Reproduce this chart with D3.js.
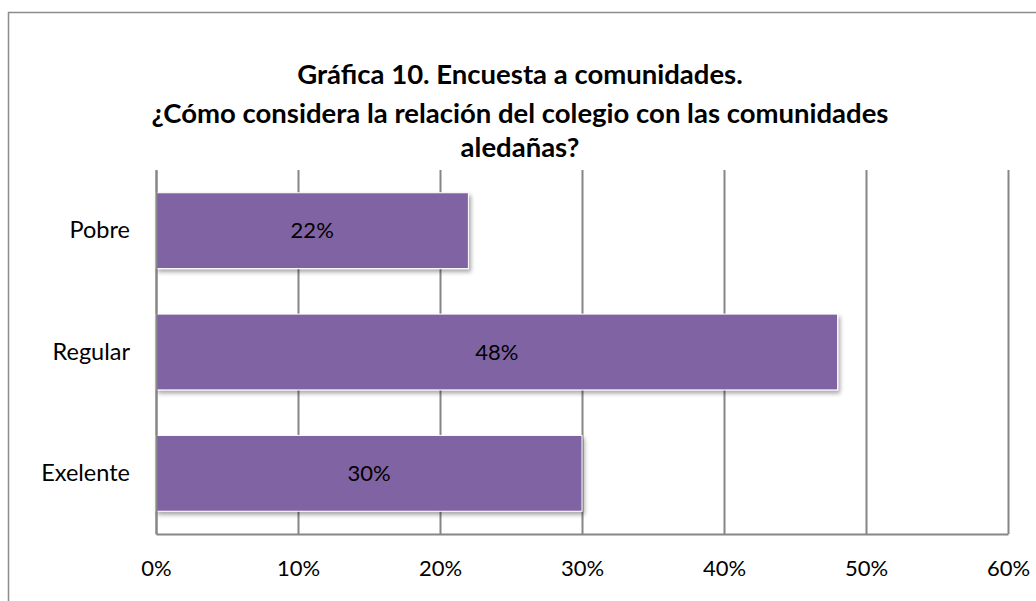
<!DOCTYPE html>
<html>
<head>
<meta charset="utf-8">
<script src="https://d3js.org/d3.v7.min.js"></script>
<style>
  html, body { margin: 0; padding: 0; background: #fff; overflow: hidden; }
  svg { display: block; }
</style>
</head>
<body>
<div id="chart"></div>
<script>
// chart data
var categories = ["Pobre", "Regular", "Exelente"];
var values = [0.22, 0.48, 0.30];
var xTicks = [0, 0.1, 0.2, 0.3, 0.4, 0.5, 0.6];
var titleLines = ["Gráfica 10. Encuesta a comunidades.",
                  "¿Cómo considera la relación del colegio con las comunidades",
                  "aledañas?"];

var W = 1036, H = 601;
var margin = {top: 170, right: 28, bottom: 67, left: 156},
    width = W - margin.left - margin.right,
    height = H - margin.top - margin.bottom;

var font = "Lato, 'Open Sans', sans-serif";

var svg = d3.select("#chart").append("svg")
    .attr("width", W)
    .attr("height", H);

// drop shadow for the bars
var defs = svg.append("defs");
var f = defs.append("filter").attr("id", "shadow")
    .attr("x", "-5%").attr("y", "-10%").attr("width", "115%").attr("height", "140%");
f.append("feDropShadow")
    .attr("dx", 2).attr("dy", 3).attr("stdDeviation", 2)
    .attr("flood-color", "#000").attr("flood-opacity", 0.35);

// outer frame (right and bottom edges run off the picture)
svg.append("path")
    .attr("d", "M8.5," + H + "V12.5H" + W)
    .attr("fill", "none")
    .attr("stroke", "#8c8c8c")
    .attr("stroke-width", 1.5);

// title
svg.append("text")
    .attr("x", 520)
    .attr("y", 84)
    .attr("text-anchor", "middle")
    .style("font-family", font)
    .style("font-weight", "700")
    .style("font-size", "27.5px")
    .selectAll("tspan")
    .data(titleLines)
    .enter().append("tspan")
      .attr("x", 520)
      .attr("dy", function(d, i) { return i == 0 ? 0 : (i == 1 ? 39 : 34); })
      .text(function(d) { return d; });

var g = svg.append("g")
    .attr("transform", "translate(" + margin.left + "," + margin.top + ")");

var x = d3.scaleLinear().domain([0, 0.6]).range([0, width]);
var y = d3.scaleBand().domain(categories).range([0, height]).paddingInner(0.375).paddingOuter(0.1875);

// gridlines
g.append("g")
    .attr("class", "grid")
    .selectAll("line")
    .data(xTicks)
    .enter().append("line")
      .attr("x1", function(d) { return Math.round(x(d)) + 0.5; })
      .attr("x2", function(d) { return Math.round(x(d)) + 0.5; })
      .attr("y1", 0)
      .attr("y2", height)
      .attr("stroke", "#868686")
      .attr("stroke-width", 2);

// bars
g.selectAll(".bar")
    .data(values)
    .enter().append("rect")
      .attr("class", "bar")
      .attr("x", 0)
      .attr("y", function(d, i) { return y(categories[i]); })
      .attr("width", function(d) { return x(d); })
      .attr("height", y.bandwidth())
      .attr("fill", "#8064a2")
      .attr("stroke", "#ffffff")
      .attr("stroke-width", 1)
      .attr("filter", "url(#shadow)");

// data labels
g.selectAll(".label")
    .data(values)
    .enter().append("text")
      .attr("class", "label")
      .attr("x", function(d) { return x(d) / 2; })
      .attr("y", function(d, i) { return y(categories[i]) + y.bandwidth() / 2; })
      .attr("dy", "0.35em")
      .attr("text-anchor", "middle")
      .style("font-family", font)
      .style("font-size", "22px")
      .attr("fill", "#000")
      .text(function(d) { return Math.round(d * 100) + "%"; });

// x axis
var xAxis = g.append("g")
    .attr("class", "x axis")
    .attr("transform", "translate(0," + height + ")")
    .call(d3.axisBottom(x).tickValues(xTicks).tickSize(0).tickPadding(26)
      .tickFormat(d3.format(".0%")));
xAxis.select(".domain").attr("stroke", "#868686").attr("stroke-width", 2);
xAxis.selectAll("text")
    .style("font-family", font)
    .style("font-size", "22px")
    .attr("fill", "#000");

// y axis
var yAxis = g.append("g")
    .attr("class", "y axis")
    .call(d3.axisLeft(y).tickSize(0).tickPadding(26));
yAxis.select(".domain").attr("stroke", "#868686").attr("stroke-width", 2);
yAxis.selectAll("text")
    .style("font-family", font)
    .style("font-size", "23.5px")
    .attr("fill", "#000");
</script>
</body>
</html>
